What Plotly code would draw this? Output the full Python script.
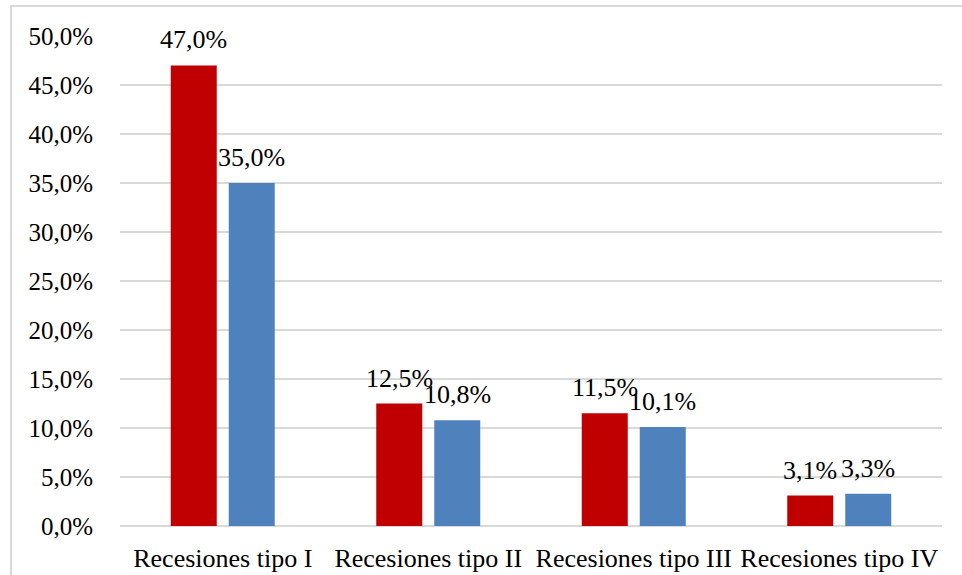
import plotly.graph_objects as go

categorias = ["Recesiones tipo I", "Recesiones tipo II", "Recesiones tipo III", "Recesiones tipo IV"]
serie_1 = [47.0, 12.5, 11.5, 3.1]
serie_2 = [35.0, 10.8, 10.1, 3.3]
ticks_y = [0, 5, 10, 15, 20, 25, 30, 35, 40, 45, 50]

ROJO = "#C00000"
AZUL = "#4F81BD"
FUENTE = "Liberation Serif"


def etiqueta(v):
    return f"{v:.1f}%".replace(".", ",")


fig = go.Figure()
fig.add_trace(go.Bar(x=categorias, y=serie_1, name="Serie 1", marker_color=ROJO,
                     marker_line_width=0))
fig.add_trace(go.Bar(x=categorias, y=serie_2, name="Serie 2", marker_color=AZUL,
                     marker_line_width=0))

# value labels above each bar
for serie, desplaz in ((serie_1, -29), (serie_2, 29)):
    for cat, v in zip(categorias, serie):
        fig.add_annotation(x=cat, y=v, text=etiqueta(v), showarrow=False,
                           xanchor="center", yanchor="bottom", xshift=desplaz, yshift=9,
                           font=dict(family=FUENTE, size=26, color="black"))

# chart frame
fig.add_shape(type="rect", xref="paper", yref="paper",
              x0=-0.1326, y0=-0.3, x1=1.2, y1=1.0612,
              line=dict(color="#D9D9D9", width=2), fillcolor="rgba(0,0,0,0)", layer="below")

fig.update_layout(
    width=962, height=575,
    margin=dict(l=120, r=20, t=36, b=49, autoexpand=False),
    paper_bgcolor="white", plot_bgcolor="white",
    showlegend=False,
    barmode="group", bargap=0.4355, bargroupgap=0.207,
    font=dict(family=FUENTE, size=25, color="black"),
)
fig.update_yaxes(
    range=[0, 50], tickvals=ticks_y,
    ticktext=[etiqueta(t) for t in ticks_y],
    showgrid=True, gridcolor="#D9D9D9", gridwidth=2,
    zeroline=True, zerolinecolor="#D9D9D9", zerolinewidth=2,
    showline=False, ticks="", ticklabelstandoff=26, automargin=False,
    tickfont=dict(family=FUENTE, size=25, color="black"),
)
fig.update_xaxes(
    showline=False, ticks="", ticklabelstandoff=14, automargin=False,
    tickfont=dict(family=FUENTE, size=26, color="black"),
)

fig.write_html("out.html")
